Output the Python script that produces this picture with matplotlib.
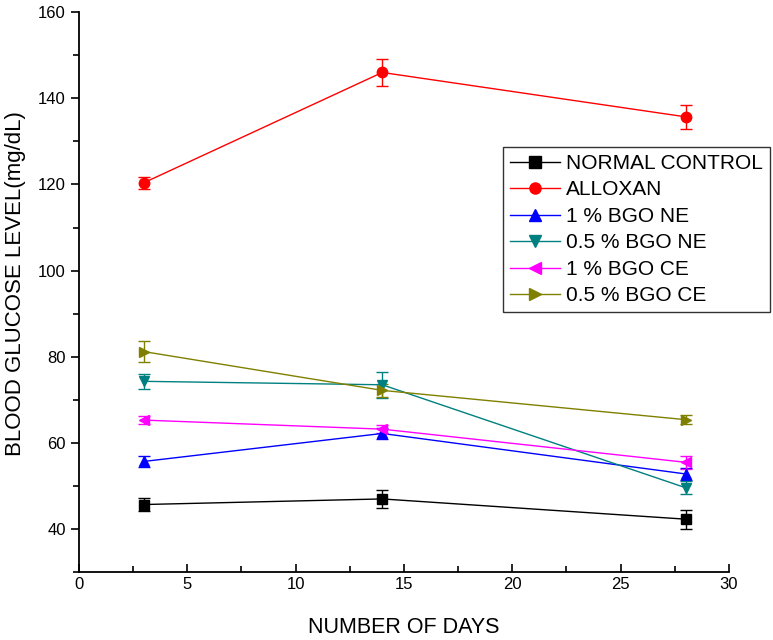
import matplotlib.pyplot as plt
from matplotlib.lines import Line2D
from matplotlib.ticker import MultipleLocator

plt.rcParams['font.family'] = ['Liberation Sans', 'DejaVu Sans']

# days of measurement
days = [3, 14, 28]

# mean blood glucose (mg/dL) and error bars per group
normal = [45.7, 47.0, 42.3]
normal_err = [1.5, 2.0, 2.2]
alloxan = [120.4, 146.0, 135.7]
alloxan_err = [1.4, 3.2, 2.8]
bgo_ne_1 = [55.7, 62.2, 52.8]
bgo_ne_1_err = [1.3, 1.3, 1.3]
bgo_ne_05 = [74.3, 73.5, 49.6]
bgo_ne_05_err = [1.8, 3.0, 1.5]
bgo_ce_1 = [65.3, 63.2, 55.5]
bgo_ce_1_err = [1.0, 1.0, 1.5]
bgo_ce_05 = [81.2, 72.2, 65.4]
bgo_ce_05_err = [2.5, 1.5, 1.0]

series = [
    ("NORMAL CONTROL", normal, normal_err, 'black', 's'),
    ("ALLOXAN", alloxan, alloxan_err, 'red', 'o'),
    ("1 % BGO NE", bgo_ne_1, bgo_ne_1_err, 'blue', '^'),
    ("0.5 % BGO NE", bgo_ne_05, bgo_ne_05_err, '#008080', 'v'),
    ("1 % BGO CE", bgo_ce_1, bgo_ce_1_err, 'magenta', '<'),
    ("0.5 % BGO CE", bgo_ce_05, bgo_ce_05_err, '#808000', '>'),
]

fig = plt.figure(figsize=(7.73, 6.4), dpi=100)
ax = fig.add_axes([0.102, 0.106, 0.841, 0.875])

handles = []
for name, vals, err, col, mk in series:
    ax.errorbar(days, vals, yerr=err, color=col, marker=mk, markersize=7.5,
                linewidth=1, elinewidth=1, capsize=4, capthick=1)
    # legend entry without the error bar glyph
    handles.append(Line2D([], [], color=col, marker=mk, markersize=8,
                          linewidth=1, label=name))

ax.set_xlim(0, 30)
ax.set_ylim(30, 160)
ax.xaxis.set_major_locator(MultipleLocator(5))
ax.xaxis.set_minor_locator(MultipleLocator(2.5))
ax.yaxis.set_minor_locator(MultipleLocator(10))
ax.set_yticks([40, 60, 80, 100, 120, 140, 160])

ax.spines['top'].set_visible(False)
ax.spines['right'].set_visible(False)
ax.spines['left'].set_linewidth(1.3)
ax.spines['bottom'].set_linewidth(1.3)
ax.tick_params(axis='x', which='both', direction='in', labelsize=12, width=1.2)
ax.tick_params(axis='y', which='both', direction='out', labelsize=12, width=1.2)
ax.tick_params(which='major', length=6)
ax.tick_params(which='minor', length=4)

ax.set_xlabel('NUMBER OF DAYS', fontsize=15.5)
ax.set_ylabel('BLOOD GLUCOSE LEVEL(mg/dL)', fontsize=16)
ax.xaxis.set_label_coords(0.5, -0.08)
ax.yaxis.set_label_coords(-0.082, 0.516)

leg = ax.legend(handles=handles, loc='upper left',
                bbox_to_anchor=(503 / 773, 1 - 147 / 640),
                bbox_transform=fig.transFigure, fontsize=15, frameon=True,
                fancybox=False, edgecolor='black', borderpad=0.33,
                labelspacing=0.36, handlelength=2.4, handletextpad=0.3,
                borderaxespad=0)
leg.get_frame().set_linewidth(1)

fig.savefig('out.png', dpi=100)
